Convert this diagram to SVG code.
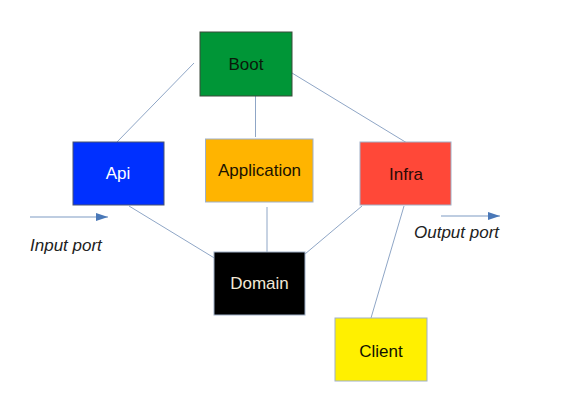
<svg xmlns="http://www.w3.org/2000/svg" width="573" height="405" viewBox="0 0 573 405">
<style>
.box{stroke:#9fb0c8;stroke-width:1}
.lbl{font-family:"Liberation Sans",Arial,sans-serif;font-size:17px;text-anchor:middle}
.port{font-family:"Liberation Sans",Arial,sans-serif;font-size:17px;font-style:italic;fill:#222}
.conn{stroke:#8fa6c6;stroke-width:1;fill:none}
.arr{stroke:#7f9cc4;stroke-width:1.2;fill:none}
</style>
<defs>
<marker id="ah" viewBox="0 0 12 8" refX="12" refY="4" markerWidth="12" markerHeight="8" markerUnits="userSpaceOnUse" orient="auto">
<path d="M0,0 L12,4 L0,8 z" fill="#4a78b8"/>
</marker>
</defs>
<rect width="573" height="405" fill="#ffffff"/>
<g id="connectors">
<line class="conn" x1="194" y1="63" x2="117" y2="142"/>
<line class="conn" x1="292" y1="73" x2="407" y2="143"/>
<line class="conn" x1="255.5" y1="96" x2="255.5" y2="137"/>
<line class="conn" x1="129" y1="206" x2="216" y2="259"/>
<line class="conn" x1="267" y1="207" x2="267" y2="257"/>
<line class="conn" x1="362" y1="206" x2="305" y2="254"/>
<line class="conn" x1="404" y1="206" x2="371" y2="318"/>
<line class="arr" x1="30" y1="217" x2="108" y2="217" marker-end="url(#ah)"/>
<line class="arr" x1="441" y1="216" x2="500" y2="216" marker-end="url(#ah)"/>
</g>
<g id="boot">
<rect class="box" x="200" y="32" width="92" height="64" fill="#009637" style="stroke:#3a4a3a"/>
<text class="lbl" x="246" y="70" fill="#0a1a0a">Boot</text>
</g>
<g id="api">
<rect class="box" x="73" y="142" width="91" height="63" fill="#0030ff" style="stroke:#4a5570"/>
<text class="lbl" x="118" y="179" fill="#ffffff">Api</text>
</g>
<g id="application">
<rect class="box" x="205.5" y="139" width="107.5" height="63" fill="#ffb400"/>
<text class="lbl" x="259.5" y="176" fill="#1a1200">Application</text>
</g>
<g id="infra">
<rect class="box" x="360" y="142" width="91" height="63" fill="#ff4838"/>
<text class="lbl" x="406" y="180" fill="#2a0a05">Infra</text>
</g>
<g id="domain">
<rect class="box" x="214" y="252" width="91" height="63" fill="#000000"/>
<text class="lbl" x="259.5" y="289" fill="#f2e8d6">Domain</text>
</g>
<g id="client">
<rect class="box" x="335" y="318" width="92" height="63" fill="#fff000"/>
<text class="lbl" x="381" y="357" fill="#111100">Client</text>
</g>
<g id="port-labels">
<text class="port" x="30" y="251">Input port</text>
<text class="port" x="414" y="238">Output port</text>
</g>
</svg>
